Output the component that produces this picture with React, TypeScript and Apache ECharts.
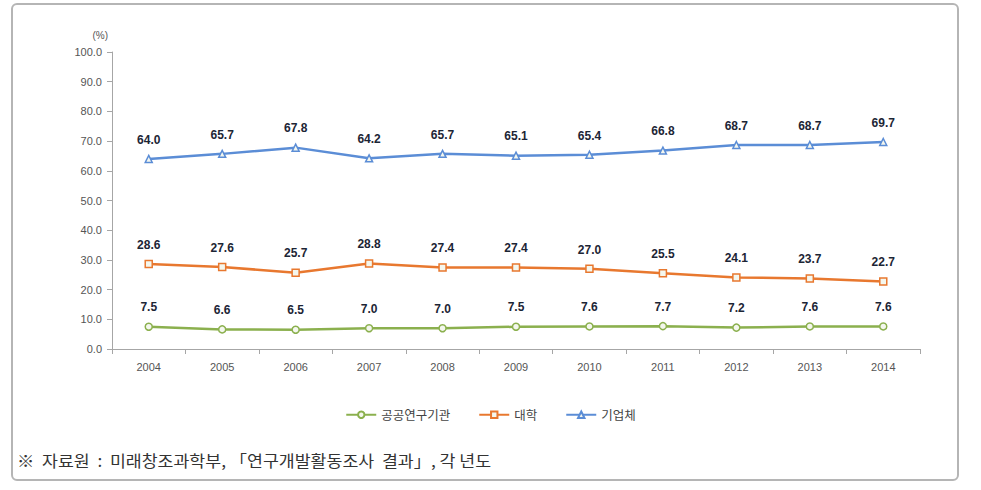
import React, { useEffect, useRef } from "react";
import * as echarts from "echarts";

const years = ["2004", "2005", "2006", "2007", "2008", "2009", "2010", "2011", "2012", "2013", "2014"];
const publicInst = [7.5, 6.6, 6.5, 7.0, 7.0, 7.5, 7.6, 7.7, 7.2, 7.6, 7.6];
const university = [28.6, 27.6, 25.7, 28.8, 27.4, 27.4, 27.0, 25.5, 24.1, 23.7, 22.7];
const enterprise = [64.0, 65.7, 67.8, 64.2, 65.7, 65.1, 65.4, 66.8, 68.7, 68.7, 69.7];
const seriesNames = ["공공연구기관", "대학", "기업체"];
const footnote = "※  자료원  :  미래창조과학부, 「연구개발활동조사  결과」, 각 년도";

export default function App() {
  const ref = useRef<HTMLDivElement>(null);
  useEffect(() => {
    if (!ref.current) return;
    const chart = echarts.init(ref.current, null, { renderer: "svg" });
    const labelStyle = {
      show: true,
      position: "top" as const,
      distance: 9,
      fontSize: 12,
      fontWeight: "bold" as const,
      color: "#1c2535",
      fontFamily: "Liberation Sans",
      formatter: (p: any) => Number(p.value).toFixed(1),
    };
    const mk = (name: string, data: number[], color: string, symbol: string, size: number) => ({
      name,
      type: "line",
      data,
      symbol,
      symbolSize: size,
      lineStyle: { color, width: 2.5 },
      itemStyle: { color: "#f4f7ee", borderColor: color, borderWidth: 1.5 },
      label: labelStyle,
      z: 3,
    });
    chart.setOption({
      animation: false,
      backgroundColor: "#fff",
      textStyle: { fontFamily: "Liberation Sans" },
      grid: { left: 112, right: 61, top: 52, bottom: 141, containLabel: false },
      legend: {
        bottom: 64,
        left: "center",
        itemGap: 28,
        itemWidth: 30,
        itemHeight: 8,
        textStyle: { fontSize: 12.5, color: "#444", fontFamily: "Noto Sans CJK KR" },
        data: [seriesNames[0], seriesNames[1], seriesNames[2]],
      },
      xAxis: {
        type: "category",
        data: years,
        boundaryGap: true,
        axisLine: { lineStyle: { color: "#a6a6a6", width: 1 } },
        axisTick: { show: true, length: 5, lineStyle: { color: "#a6a6a6" } },
        axisLabel: { color: "#555", fontSize: 11, margin: 12 },
      },
      yAxis: {
        type: "value",
        min: 0,
        max: 100,
        interval: 10,
        name: "(%)",
        nameGap: 12,
        nameTextStyle: { color: "#555", fontSize: 10, align: "right", padding: [0, 4, 0, 0] },
        axisLine: { show: true, lineStyle: { color: "#a6a6a6" } },
        axisTick: { show: true, length: 5, lineStyle: { color: "#a6a6a6" } },
        splitLine: { show: false },
        axisLabel: { color: "#555", fontSize: 11, margin: 10, formatter: (v: number) => v.toFixed(1) },
      },
      graphic: [
        {
          type: "rect",
          shape: { x: 12, y: 4, width: 946, height: 476, r: 5 },
          style: { fill: "none", stroke: "#b5b5b5", lineWidth: 2 },
          z: -1,
        },
        {
          type: "text",
          x: 17,
          y: 452,
          scaleX: 1.08,
          style: { text: footnote, fontSize: 16, fill: "#333", fontFamily: "Noto Sans CJK KR" },
        },
      ],
      series: [
        mk(seriesNames[0], publicInst, "#8bb04e", "circle", 7),
        mk(seriesNames[1], university, "#e8782f", "rect", 7),
        mk(seriesNames[2], enterprise, "#5b8dd6", "triangle", 7),
      ],
    });
    return () => chart.dispose();
  }, []);
  return <div ref={ref} style={{ position: "fixed", left: 0, top: 0, width: 981, height: 490 }} />;
}
